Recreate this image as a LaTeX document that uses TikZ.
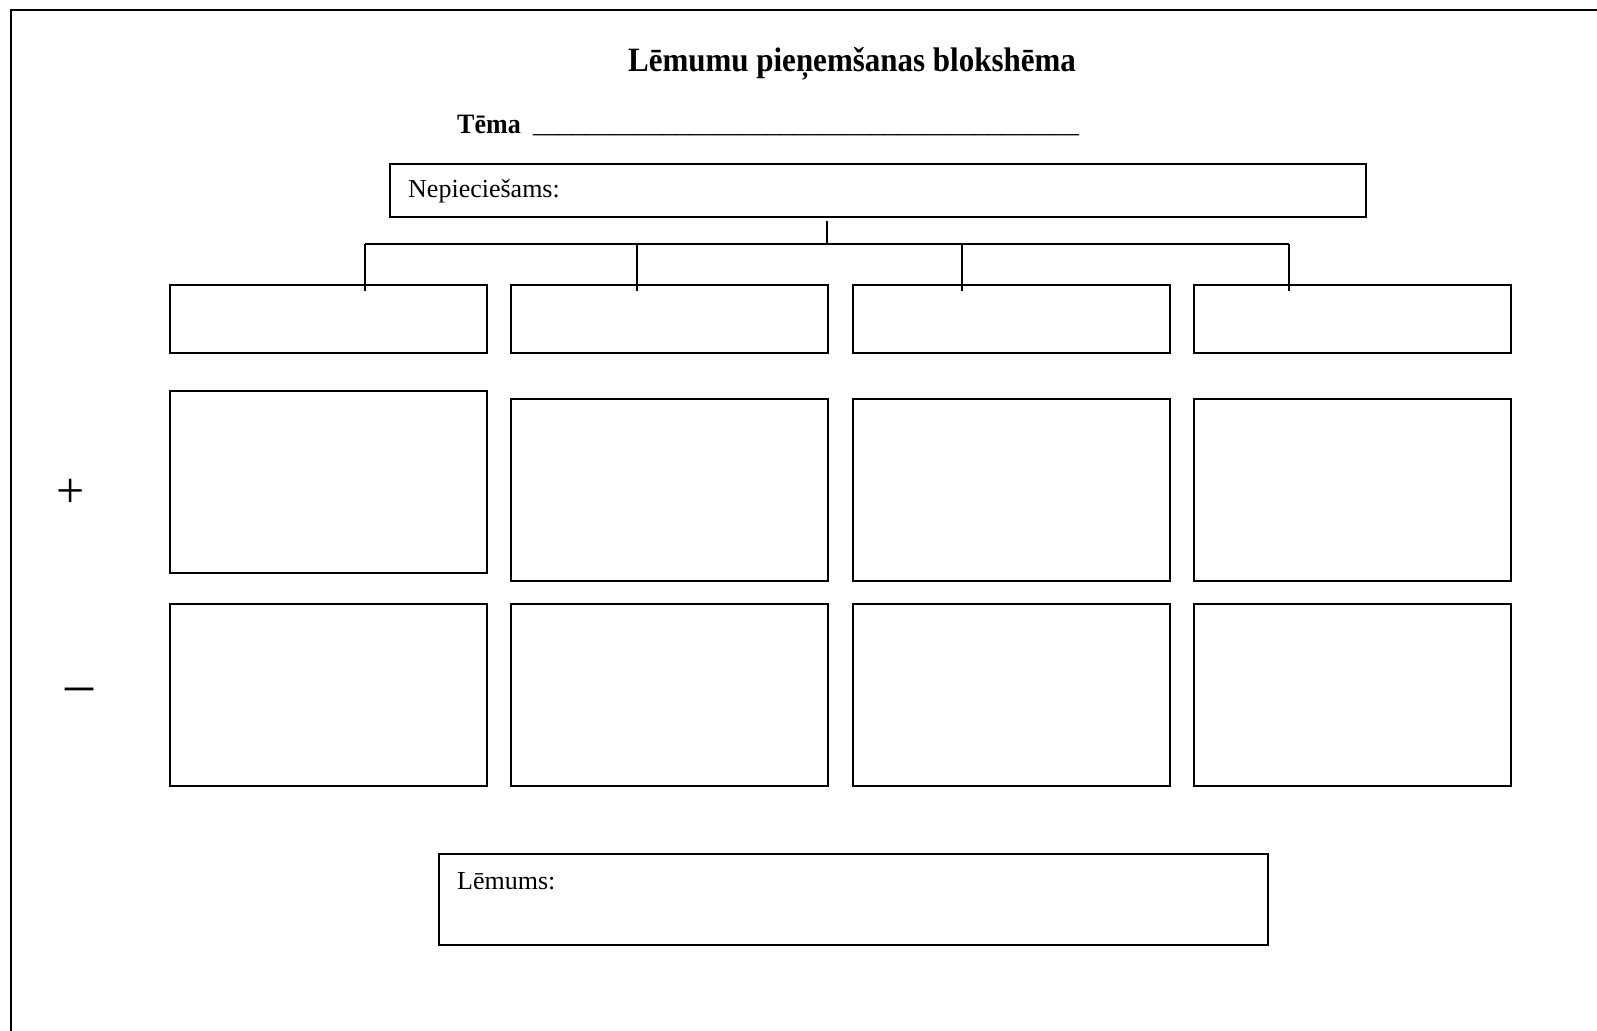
\documentclass[tikz,border=0pt]{standalone}
\usepackage{fontspec}
\usepackage{graphicx}
\setmainfont{Liberation Serif}
\begin{document}
\begin{tikzpicture}[x=1pt,y=-1pt,
  cell/.style={draw,line width=2pt,inner sep=0pt,anchor=north west,
               minimum width=317pt},
  toprow/.style={cell,minimum height=68pt},
  bigrow/.style={cell,minimum height=182pt},
  conn/.style={line width=1.6pt},
  label/.style={inner sep=0pt,anchor=base west,font=\fontsize{26}{30}\selectfont}]
\useasboundingbox (0,0) rectangle (1597,1030);

% page frame (top and left edges)
\coordinate (frameTR) at (1600,10);
\coordinate (frameTL) at (11,10);
\coordinate (frameBL) at (11,1033);
\draw[line width=2pt] (frameTR) -- (frameTL) -- (frameBL);

% heading
\node[inner sep=0pt,anchor=base,font=\fontsize{31}{37}\selectfont\bfseries]
  (title) at (852,72) {\scalebox{1}[1.1]{Lēmumu pieņemšanas blokshēma}};
\node[label,font=\fontsize{26}{30}\selectfont\bfseries] (tema) at (457,133)
  {\scalebox{1}[1.08]{Tēma}};
\node[label] (temaline) at (533,132)
  {\_\_\_\_\_\_\_\_\_\_\_\_\_\_\_\_\_\_\_\_\_\_\_\_\_\_\_\_\_\_\_\_\_\_\_\_\_\_\_\_\_\_};

% need box
\node[draw,line width=2pt,inner sep=0pt,anchor=north west,
      minimum width=976pt,minimum height=53pt] (need) at (389,163) {};
\node[label] (needtext) at (408,197) {Nepieciešams:};

% option boxes
\foreach \i/\x in {1/169,2/510,3/852,4/1193}{
  \node[toprow] (opt\i) at (\x,284) {};
  \node[bigrow] (minus\i) at (\x,603) {};
}
\node[bigrow] (plus1) at (169,390) {};
\foreach \i/\x in {2/510,3/852,4/1193}{
  \node[bigrow] (plus\i) at (\x,398) {};
}

% branching connector
\coordinate (stubtop) at (827,221);
\coordinate (hub) at (827,244);
\foreach \i/\x in {1/365,2/637,3/962,4/1289}{
  \coordinate (bus\i) at (\x,244);
  \coordinate (drop\i) at (\x,291);
}
\draw[conn] (stubtop) -- (hub);
\draw[conn] (bus1) -- (bus4);
\foreach \i in {1,...,4}{
  \draw[conn] (bus\i) -- (drop\i);
}

% plus / minus markers
\node[inner sep=0pt,anchor=base west,font=\fontsize{50}{56}\selectfont]
  (plusmark) at (56,507.5) {+};
\node[inner sep=0pt,anchor=base west,font=\fontsize{56}{60}\selectfont]
  (minusmark) at (65,702) {–};

% decision box
\node[draw,line width=2pt,inner sep=0pt,anchor=north west,
      minimum width=829pt,minimum height=91pt] (decision) at (438,853) {};
\node[label] (decisiontext) at (457,889) {Lēmums:};
\end{tikzpicture}
\end{document}
